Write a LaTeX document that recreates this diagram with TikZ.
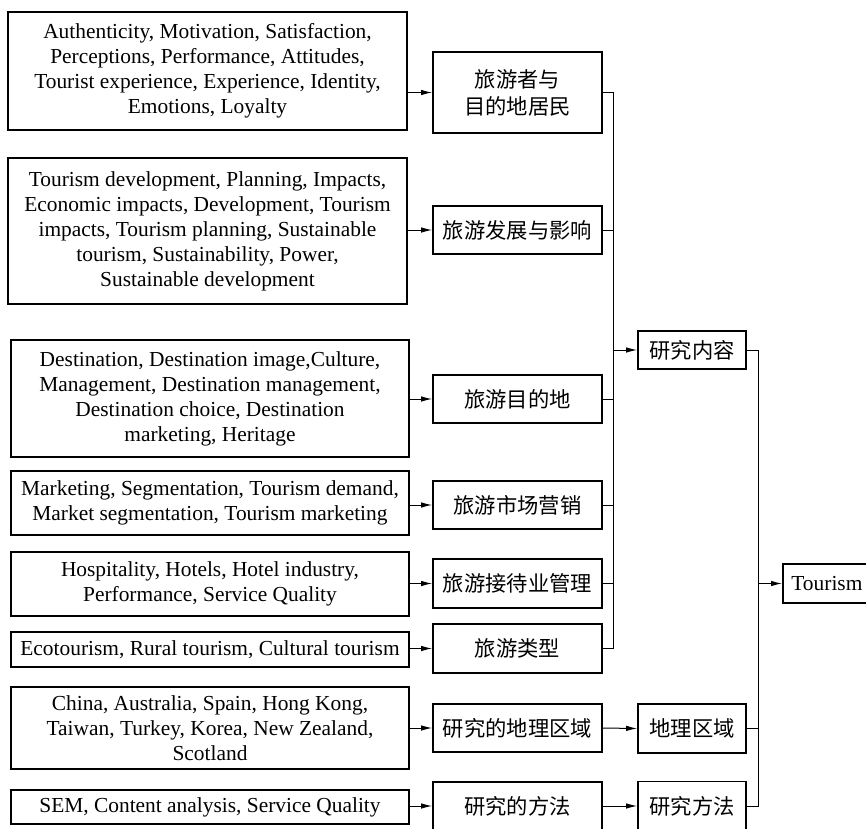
\documentclass[tikz,border=0pt]{standalone}
\usepackage{fontspec}
\setmainfont{Liberation Serif}
\newfontfamily\cjk{Noto Sans CJK SC}
\usetikzlibrary{arrows.meta}
\begin{document}
\begin{tikzpicture}[x=1bp,y=-1bp,
  box/.style={draw,line width=1.8bp,inner sep=0pt,align=center,
    font=\fontsize{21.4bp}{25bp}\selectfont},
  cbox/.style={draw,line width=1.8bp,inner sep=0pt,align=center,
    font=\fontsize{21.3bp}{27bp}\selectfont\cjk},
  conn/.style={line width=1bp},
  arr/.style={line width=1bp,-{Latex[length=11bp,width=5.5bp]}}]
\useasboundingbox (0,0) rectangle (866,829);
\clip (0,0) rectangle (866,829);
% left boxes
\node[box,minimum width=399bp,minimum height=118bp] (L1) at (207.5,71)
 {Authenticity, Motivation, Satisfaction,\\Perceptions, Performance, Attitudes,\\Tourist experience, Experience, Identity,\\Emotions, Loyalty};
\node[box,minimum width=399bp,minimum height=146bp] (L2) at (207.5,231)
 {Tourism development, Planning, Impacts,\\Economic impacts, Development, Tourism\\impacts, Tourism planning, Sustainable\\tourism, Sustainability, Power,\\Sustainable development};
\node[box,minimum width=398bp,minimum height=117bp] (L3) at (210,398.5)
 {Destination, Destination image,Culture,\\Management, Destination management,\\Destination choice, Destination\\marketing, Heritage};
\node[box,minimum width=398bp,minimum height=64bp] (L4) at (210,503)
 {Marketing, Segmentation, Tourism demand,\\Market segmentation, Tourism marketing};
\node[box,minimum width=398bp,minimum height=64bp] (L5) at (210,584)
 {Hospitality, Hotels, Hotel industry,\\Performance, Service Quality};
\node[box,minimum width=398bp,minimum height=35bp] (L6) at (210,649.5)
 {Ecotourism, Rural tourism, Cultural tourism};
\node[box,minimum width=398bp,minimum height=82bp] (L7) at (210,728)
 {China, Australia, Spain, Hong Kong,\\Taiwan, Turkey, Korea, New Zealand,\\Scotland};
\node[box,minimum width=398bp,minimum height=34bp] (L8) at (210,807)
 {SEM, Content analysis, Service Quality};
% middle boxes
\node[cbox,minimum width=169bp,minimum height=81bp] (M1) at (517.5,92.5) {旅游者与\\目的地居民};
\node[cbox,minimum width=169bp,minimum height=48bp] (M2) at (517.5,230) {旅游发展与影响};
\node[cbox,minimum width=169bp,minimum height=48bp] (M3) at (517.5,399) {旅游目的地};
\node[cbox,minimum width=169bp,minimum height=48bp] (M4) at (517.5,505) {旅游市场营销};
\node[cbox,minimum width=169bp,minimum height=49bp] (M5) at (517.5,583.5) {旅游接待业管理};
\node[cbox,minimum width=169bp,minimum height=49bp] (M6) at (517.5,648.5) {旅游类型};
\node[cbox,minimum width=169bp,minimum height=48bp] (M7) at (517.5,728) {研究的地理区域};
\node[cbox,minimum width=169bp,minimum height=48bp] (M8) at (517.5,806) {研究的方法};
% right boxes
\node[cbox,minimum width=108bp,minimum height=38bp] (R1) at (692,350) {研究内容};
\node[cbox,minimum width=108bp,minimum height=49bp] (R2) at (692,728.5) {地理区域};
\node[cbox,minimum width=108bp,minimum height=49bp] (R3) at (692,806) {研究方法};
\node[box,minimum width=90bp,minimum height=39bp,anchor=west] (T) at (782,583.5) {\hspace*{-2bp}Tourism};
% bus coordinates
\coordinate (bx1) at (613,0);
\coordinate (bx2) at (758,0);
% left to middle arrows
\foreach \i in {1,...,8}{\draw[arr] (L\i.east |- M\i.west) -- (M\i.west);}
% first bus
\draw[conn] (M1.east) -- (M1.east -| bx1) -- (M6.east -| bx1) -- (M6.east);
\foreach \i in {2,...,5}{\draw[conn] (M\i.east) -- (M\i.east -| bx1);}
\draw[arr] (R1.west -| bx1) -- (R1.west);
\draw[arr] (M7.east) -- (R2.west);
\draw[arr] (M8.east) -- (R3.west);
% second bus
\draw[conn] (R1.east) -- (R1.east -| bx2) -- (R3.east -| bx2) -- (R3.east);
\draw[conn] (R2.east) -- (R2.east -| bx2);
\draw[arr] (T.west -| bx2) -- (T.west);
\end{tikzpicture}
\end{document}
